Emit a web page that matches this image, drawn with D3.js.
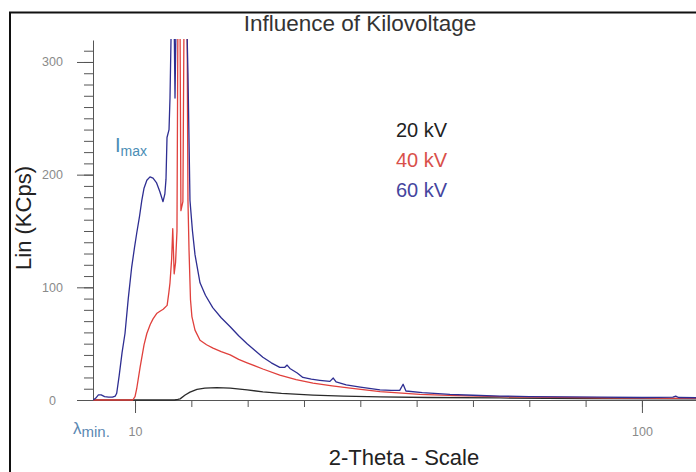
<!DOCTYPE html>
<html>
<head>
<meta charset="utf-8">
<script src="https://cdn.jsdelivr.net/npm/d3@7"></script>
<style>
  body { margin: 0; background: #fff; }
  text { font-family: "Liberation Sans", Arial, sans-serif; }
</style>
</head>
<body>
<div id="chart"></div>
<script>
// series: [2-theta, KCps]
var kv20 = [[2.54,0],[17.0,0],[17.6,0.5],[18.0,1],[18.9,4.4],[19.76,7],[21,9.5],[22.4,10.6],[24.5,11],[26.9,10.6],
  [29.9,9],[32.7,7.2],[36,5.8],[41.6,4.4],[47,3.5],[53.5,2.7],[62,2.2],[74.8,1.8],[90,1.3],[109.6,1]];

var kv40 = [[2.54,0],[9.6,0],[10.0,3],[10.3,10],[10.9,29],[11.6,49],[12.1,59],[12.7,67],[13.2,72],[13.9,77],
  [14.5,79],[15.0,80.5],[15.7,84],[16.0,95],[16.21,104],[16.5,125],[16.7,152],[16.95,112],[17.2,122],[17.45,150],
  [17.6,320],[17.75,380],[17.95,380],[18.15,168],[18.5,176],[18.75,380],[19.2,380],[19.4,177],[19.59,133],[19.85,89],
  [20.1,74],[20.65,62],[21.54,53],[22.7,49],[23.85,46],[25.3,43],[26.9,40],[28.4,36],[29.9,33],[32.7,27.5],
  [35.7,22],[38.6,18],[41.6,15],[45,12.5],[48.2,10.5],[53.5,7.5],[60.6,5],[67,3.8],[74.8,3],[85,2.3],
  [92.6,2],[109.6,1.5]];

var kv60 = [[2.54,0],[3.0,1.5],[3.5,4.5],[4.0,4.5],[4.6,3],[5.3,2.5],[6.0,2.5],[6.5,3.5],[6.75,6],[7.2,22],
  [7.7,42],[8.22,59],[8.8,90],[9.41,118],[9.9,135],[10.3,148],[10.8,163],[11.2,177],[11.6,188],[12.1,195],
  [12.66,198],[13.2,197],[13.8,193],[14.4,185],[14.97,176],[15.3,183],[15.5,196],[15.68,233],[16.04,240],[16.21,268],
  [16.39,320],[16.6,380],[16.85,380],[17.1,268],[17.4,380],[19.0,380],[19.4,290],[19.76,177],[20.2,150],[20.65,129],
  [21.54,104],[22.5,93],[23.8,82],[25.3,73],[26.9,65],[28.4,57],[29.9,50],[31.3,44],[32.7,38],[34.2,33],
  [35.7,29],[36.6,29],[37.0,31],[37.5,28],[38.8,24],[39.8,20],[41.3,18.5],[42.8,17.5],[44.6,16.5],[45.2,19.5],
  [45.7,16],[47.5,13.5],[50,11.5],[53.5,9],[55.5,8.5],[57,8.5],[57.6,14],[58.1,8],[61,6.5],[65.9,5],
  [70,4.2],[74.8,3.5],[80,3],[92.6,2.5],[100,2.2],[105.5,2.5],[106,3.5],[106.5,2.2],[109.6,2]];

var seriesNames = ["20 kV", "40 kV", "60 kV"];
var xTickLabels = [10, 100];
var xMinorTicks = [10, 20, 30, 40, 50, 60, 70, 80, 90, 100];
var yTickLabels = [0, 100, 200, 300];
var yMinorTicks = d3.range(0, 320, 10);

var colors = ["#2a2a2a", "#e0403c", "#2e2e92"];
var legendColors = ["#222", "#d9504a", "#45459e"];

var svg = d3.select("#chart")
            .append("svg")
            .attr("width", 696)
            .attr("height", 472);

// outer frame (runs off the right and bottom edge)
svg.append("rect")
   .attr("x", 10).attr("y", 12.5)
   .attr("width", 720).attr("height", 500)
   .attr("fill", "none")
   .attr("stroke", "#111")
   .attr("stroke-width", 2);

var x = d3.scaleLinear().domain([2.54, 109.6]).range([93, 696]);
var y = d3.scaleLinear().domain([0, 319.5]).range([400, 40]);

svg.append("clipPath").attr("id", "plotclip")
   .append("rect").attr("x", 93).attr("y", 39).attr("width", 603).attr("height", 362);

// x axis
var gxMinor = svg.append("g")
  .attr("transform", "translate(0,400)")
  .call(d3.axisBottom(x).tickValues(xMinorTicks).tickSize(7).tickSizeOuter(0).tickFormat(""));
var gx = svg.append("g")
  .attr("transform", "translate(0,400)")
  .call(d3.axisBottom(x).tickValues(xTickLabels).tickSize(13).tickSizeOuter(0).tickPadding(14));
gx.select(".domain").remove();

// y axis
var gyMinor = svg.append("g")
  .attr("transform", "translate(93,0)")
  .call(d3.axisLeft(y).tickValues(yMinorTicks).tickSize(9).tickSizeOuter(0).tickFormat(""));
var gy = svg.append("g")
  .attr("transform", "translate(93,0)")
  .call(d3.axisLeft(y).tickValues(yTickLabels).tickSize(16).tickSizeOuter(0));
gy.select(".domain").remove();
gy.selectAll("text").attr("x", -40.5).attr("text-anchor", "middle");

svg.selectAll(".domain, .tick line").attr("stroke", "#555");
svg.selectAll(".tick text")
   .attr("fill", "#8a8a8a")
   .style("font-size", "12.5px")
   .style("font-family", "'Liberation Sans', Arial, sans-serif");

// curves
var line = d3.line()
  .x(function (d) { return x(d[0]); })
  .y(function (d) { return y(d[1]); });

var plot = svg.append("g").attr("clip-path", "url(#plotclip)");
[kv20, kv40, kv60].forEach(function (s, i) {
  plot.append("path")
      .datum(s)
      .attr("d", line)
      .attr("fill", "none")
      .attr("stroke", colors[i])
      .attr("stroke-width", 1.3)
      .attr("stroke-linejoin", "round");
});

// title and axis titles
svg.append("text")
   .attr("x", 360).attr("y", 31)
   .attr("text-anchor", "middle")
   .attr("fill", "#333")
   .style("font-size", "22.5px")
   .text("Influence of Kilovoltage");

svg.append("text")
   .attr("transform", "translate(31,218) rotate(-90)")
   .attr("text-anchor", "middle")
   .attr("fill", "#222")
   .style("font-size", "22px")
   .text("Lin (KCps)");

svg.append("text")
   .attr("x", 404).attr("y", 465)
   .attr("text-anchor", "middle")
   .attr("fill", "#222")
   .style("font-size", "22px")
   .text("2-Theta - Scale");

// legend
svg.selectAll(".legend")
   .data(seriesNames)
   .enter()
   .append("text")
   .attr("class", "legend")
   .attr("x", 396)
   .attr("y", function (d, i) { return 137 + i * 30; })
   .attr("fill", function (d, i) { return legendColors[i]; })
   .style("font-size", "20px")
   .text(function (d) { return d; });

// annotations
var imax = svg.append("text").attr("x", 115).attr("y", 152).attr("fill", "#4a8db5");
imax.append("tspan").style("font-size", "20px").text("I");
imax.append("tspan").attr("dy", 4).style("font-size", "14px").text("max");

var lmin = svg.append("text").attr("x", 73).attr("y", 434).attr("fill", "#5a88b2");
lmin.append("tspan").style("font-size", "17px").text("λ");
lmin.append("tspan").attr("dy", 3).style("font-size", "15px").text("min.");
</script>
</body>
</html>
